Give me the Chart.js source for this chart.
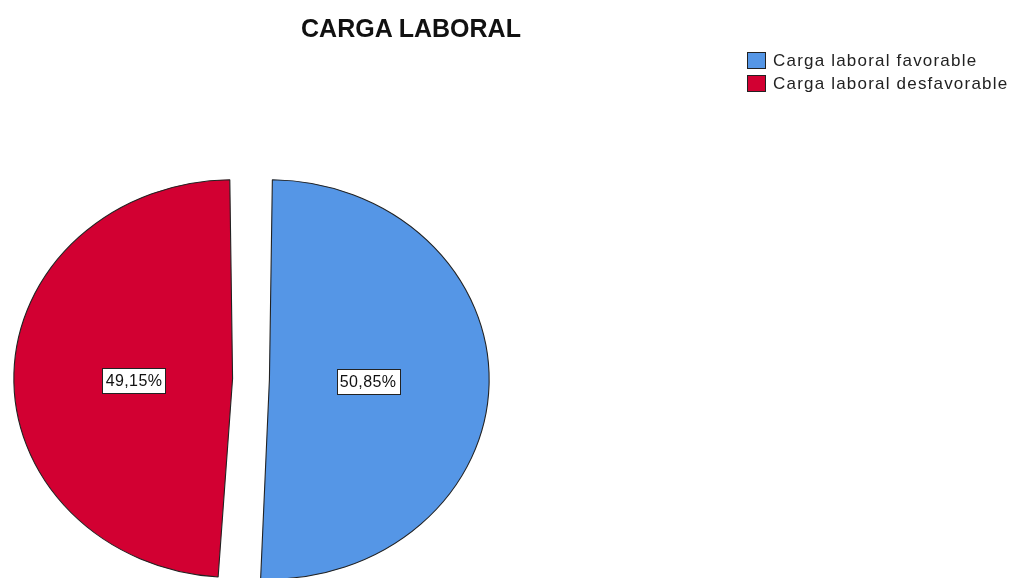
<!DOCTYPE html>
<html>
<head>
<meta charset="utf-8">
<script src="https://cdn.jsdelivr.net/npm/chart.js@4"></script>
<style>
  html, body { margin: 0; padding: 0; background: #fff; overflow: hidden; }
  #page { position: relative; width: 1012px; height: 578px; overflow: hidden; font-family: 'Liberation Sans', Arial, sans-serif; }
  #pieBox { position: absolute; left: 0; top: 0; width: 1012px; height: 760px; }
  #title { position: absolute; left: 291px; width: 240px; top: 14px; text-align: center; font-weight: bold; font-size: 25px; color: #111; white-space: nowrap; }
  #legend { position: absolute; left: 747px; top: 49px; }
  .item { display: flex; align-items: center; height: 23px; font-size: 17px; letter-spacing: 1.2px; color: #222; white-space: nowrap; }
  .swatch { width: 17px; height: 15px; border: 1px solid #222; margin-right: 7px; box-sizing: content-box; }
</style>
</head>
<body>
<div id="page">
  <div id="pieBox"><canvas id="chart"></canvas></div>
  <div id="title">CARGA LABORAL</div>
  <div id="legend"></div>
</div>
<script>
// data
const categories = ['Carga laboral favorable', 'Carga laboral desfavorable'];
const percents = [50.85, 49.15];
const colors = ['#5596E6', '#D20032'];

const STRETCH_X = 1.10;   // pie is drawn slightly wider than tall
const OFFSET = 67;        // explode distance (chart.js scales it down internally)

// legend as html
const legendEl = document.getElementById('legend');
categories.forEach((c, i) => {
    const row = document.createElement('div');
    row.className = 'item';
    const sw = document.createElement('div');
    sw.className = 'swatch';
    sw.style.background = colors[i];
    row.appendChild(sw);
    row.appendChild(document.createTextNode(c));
    legendEl.appendChild(row);
});

const stretchPlugin = {
    id: 'stretch',
    beforeDatasetsDraw(chart) {
        const arc = chart.getDatasetMeta(0).data[0];
        const ctx = chart.ctx;
        ctx.save();
        ctx.translate(arc.x, arc.y);
        ctx.scale(STRETCH_X, 1);
        ctx.translate(-arc.x, -arc.y);
    },
    afterDatasetsDraw(chart) {
        const ctx = chart.ctx;
        ctx.restore();
        // percent labels in white boxes
        const arcs = chart.getDatasetMeta(0).data;
        ctx.save();
        ctx.font = '16px "Liberation Sans", Arial, sans-serif';
        try { ctx.letterSpacing = '0.4px'; } catch (e) {}
        ctx.textAlign = 'center';
        ctx.textBaseline = 'middle';
        arcs.forEach((arc, i) => {
            const half = (arc.startAngle + arc.endAngle) / 2;
            const r = arc.outerRadius * 0.49 + OFFSET / 4;
            const x = arc.x + Math.cos(half) * r * STRETCH_X;
            const y = arc.y + 2 + Math.sin(half) * r * 0.2;
            const txt = percents[i].toFixed(2).replace('.', ',') + '%';
            const w = Math.round(ctx.measureText(txt).width + 6);
            const h = 25;
            const bx = Math.round(x - w / 2) + 0.5;
            const by = Math.round(y - h / 2) + 0.5;
            ctx.fillStyle = '#fff';
            ctx.fillRect(bx, by, w, h);
            ctx.strokeStyle = '#222';
            ctx.lineWidth = 1;
            ctx.strokeRect(bx, by, w, h);
            ctx.fillStyle = '#111';
            ctx.fillText(txt, x, y + 1);
        });
        ctx.restore();
    }
};

new Chart(document.getElementById('chart'), {
    type: 'pie',
    data: {
        labels: categories,
        datasets: [{
            data: percents,
            backgroundColor: colors,
            borderColor: '#222',
            borderWidth: 1,
            offset: OFFSET,
            radius: 183
        }]
    },
    options: {
        responsive: true,
        maintainAspectRatio: false,
        animation: false,
        layout: { padding: { right: 510, bottom: 2 } },
        plugins: {
            legend: { display: false },
            title: { display: false },
            tooltip: { enabled: false }
        }
    },
    plugins: [stretchPlugin]
});
</script>
</body>
</html>
